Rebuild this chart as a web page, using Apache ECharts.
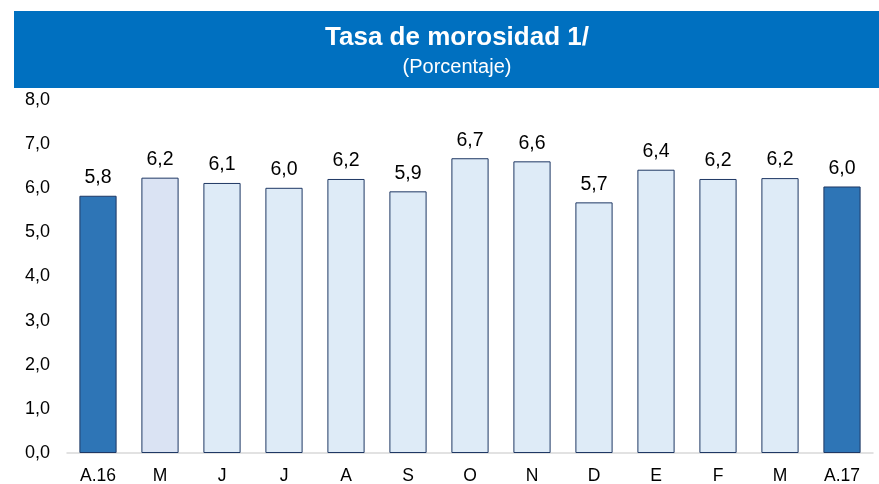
<!DOCTYPE html>
<html>
<head>
<meta charset="utf-8">
<script src="https://cdn.jsdelivr.net/npm/echarts@6/dist/echarts.min.js"></script>
<style>
  html, body { margin: 0; padding: 0; background: #fff; }
  #chart { width: 879px; height: 484px; }
</style>
</head>
<body>
<div id="chart"></div>
<script>
// meses, abril 2016 a abril 2017
const categories = ['A.16', 'M', 'J', 'J', 'A', 'S', 'O', 'N', 'D', 'E', 'F', 'M', 'A.17']
const values = [5.83, 6.24, 6.12, 6.01, 6.21, 5.93, 6.68, 6.61, 5.68, 6.42, 6.21, 6.23, 6.04]
const yTicks = [0, 1, 2, 3, 4, 5, 6, 7, 8]

const darkBar = '#2E75B6'
const lightBar = '#DEEBF7'

const chart = echarts.init(document.getElementById('chart'))

const barData = values.map((v, i) => {
  let color = lightBar
  if (i === 0 || i === values.length - 1) color = darkBar
  else if (i === 1) color = '#DAE3F3'
  return { value: v, itemStyle: { color: color } }
})

const option = {
  animation: false,
  graphic: [
    {
      type: 'rect',
      shape: { x: 14, y: 11, width: 865, height: 77 },
      style: { fill: '#0070C0' },
      z: 0
    },
    {
      type: 'text',
      x: 457, y: 38,
      style: {
        text: 'Tasa de morosidad 1/',
        fill: '#fff',
        font: 'bold 26px "Liberation Sans", Arial, sans-serif',
        textAlign: 'center', textVerticalAlign: 'middle'
      },
      z: 1
    },
    {
      type: 'text',
      x: 457, y: 67,
      style: {
        text: '(Porcentaje)',
        fill: '#fff',
        font: '20px "Liberation Sans", Arial, sans-serif',
        textAlign: 'center', textVerticalAlign: 'middle'
      },
      z: 1
    }
  ],
  grid: { left: 67, right: 6, top: 100, bottom: 31, containLabel: false, outerBoundsMode: 'none' },
  xAxis: {
    type: 'category',
    data: categories,
    axisLine: { lineStyle: { color: '#D9D9D9', width: 1.5 } },
    axisTick: { show: false },
    axisLabel: {
      color: '#000', fontSize: 17.5, margin: 14,
      fontFamily: 'Liberation Sans'
    }
  },
  yAxis: {
    type: 'value',
    min: yTicks[0],
    max: yTicks[yTicks.length - 1],
    interval: 1,
    splitLine: { show: false },
    axisLine: { show: false },
    axisTick: { show: false },
    axisLabel: {
      color: '#000', fontSize: 18, margin: 17,
      fontFamily: 'Liberation Sans',
      formatter: v => v.toFixed(1).replace('.', ',')
    }
  },
  series: [{
    type: 'bar',
    data: barData,
    barWidth: '60%',
    itemStyle: { borderColor: '#1F3864', borderWidth: 1 },
    label: {
      show: true,
      position: 'top',
      distance: 8,
      color: '#000',
      fontSize: 19.5,
      fontFamily: 'Liberation Sans',
      formatter: p => p.value.toFixed(1).replace('.', ',')
    }
  }]
}

chart.setOption(option)
</script>
</body>
</html>
